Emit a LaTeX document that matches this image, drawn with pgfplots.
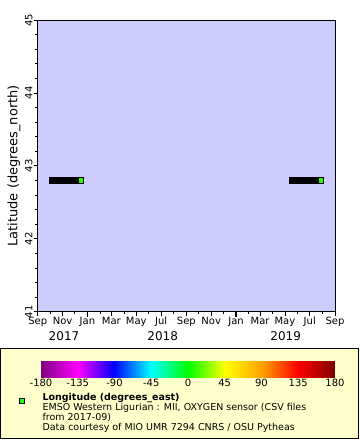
\documentclass[border=0pt]{standalone}
\usepackage{fontspec}
\setmainfont{DejaVu Sans}
\usepackage{pgfplots}
\usepackage{pgfplotstable}
\pgfplotsset{compat=1.18}
\pgfplotsset{/pgf/number format/assume math mode=true}
\definecolor{plotbg}{RGB}{204,204,255}
\definecolor{legbg}{RGB}{255,255,204}
\definecolor{markgreen}{RGB}{34,255,0}
\pgfplotsset{erddapmap/.style={colormap={erddap}{rgb255(0)=(128,0,128) rgb255(1)=(255,0,255) rgb255(2)=(0,0,255) rgb255(3)=(0,255,255) rgb255(4)=(0,255,0) rgb255(5)=(255,255,0) rgb255(6)=(255,165,0) rgb255(7)=(255,0,0) rgb255(8)=(128,0,0)}}}
% day = days since 2017-09-01
\pgfplotstableread{
day lat lon
35 42.8 6.0
37 42.8 6.0
39 42.8 6.0
41 42.8 6.0
43 42.8 6.0
45 42.8 6.0
47 42.8 6.0
49 42.8 6.0
51 42.8 6.0
53 42.8 6.0
55 42.8 6.0
57 42.8 6.0
59 42.8 6.0
61 42.8 6.0
63 42.8 6.0
65 42.8 6.0
67 42.8 6.0
69 42.8 6.0
71 42.8 6.0
73 42.8 6.0
75 42.8 6.0
77 42.8 6.0
79 42.8 6.0
81 42.8 6.0
83 42.8 6.0
85 42.8 6.0
87 42.8 6.0
89 42.8 6.0
91 42.8 6.0
93 42.8 6.0
95 42.8 6.0
97 42.8 6.0
99 42.8 6.0
101 42.8 6.0
103 42.8 6.0
105 42.8 6.0
107 42.8 6.0
624 42.8 6.0
626 42.8 6.0
628 42.8 6.0
630 42.8 6.0
632 42.8 6.0
634 42.8 6.0
636 42.8 6.0
638 42.8 6.0
640 42.8 6.0
642 42.8 6.0
644 42.8 6.0
646 42.8 6.0
648 42.8 6.0
650 42.8 6.0
652 42.8 6.0
654 42.8 6.0
656 42.8 6.0
658 42.8 6.0
660 42.8 6.0
662 42.8 6.0
664 42.8 6.0
666 42.8 6.0
668 42.8 6.0
670 42.8 6.0
672 42.8 6.0
674 42.8 6.0
676 42.8 6.0
678 42.8 6.0
680 42.8 6.0
682 42.8 6.0
684 42.8 6.0
686 42.8 6.0
688 42.8 6.0
690 42.8 6.0
692 42.8 6.0
694 42.8 6.0
696 42.8 6.0
}\obs
\begin{document}
\begin{tikzpicture}
\path[use as bounding box] (0,0) rectangle (360pt,-440pt);
\draw[fill=legbg, line width=0.8pt] (0.9pt,-348.5pt) rectangle (358.1pt,-438.5pt);
\begin{axis}[
  at={(37.7pt,-311.7pt)}, anchor=south west,
  scale only axis, width=297.3pt, height=291.7pt,
  xmin=0, xmax=730, ymin=41, ymax=45,
  axis background/.style={fill=plotbg},
  axis line style={line width=0.8pt},
  clip=false,
  tick align=outside, tick pos=left,
  xtick={0,61,122,181,242,303,365,426,487,546,607,668,730},
  xticklabels={Sep,Nov,Jan,Mar,May,Jul,Sep,Nov,Jan,Mar,May,Jul,Sep},
  minor xtick={30,91,153,212,273,334,395,456,518,577,638,699},
  extra x ticks={122,487}, extra x tick labels={},
  extra x tick style={major tick length=5pt, tick style={black, line width=1.6pt}},
  ytick={41,42,43,44,45}, minor y tick num=4,
  major tick length=4pt, minor tick length=2.5pt,
  tick style={black, line width=0.8pt},
  xticklabel style={font=\fontsize{10}{10}\selectfont, inner sep=1.2pt},
  yticklabel style={font=\fontsize{10}{10}\selectfont, rotate=90, anchor=south, inner sep=1pt},
  ylabel={Latitude (degrees\_north)},
  every axis y label/.style={at={(axis description cs:-0.0797,0.5)}, rotate=90, anchor=center, font=\fontsize{13}{13}\selectfont},
  erddapmap,
  point meta min=-180, point meta max=180,
  legend style={at={(axis description cs:-0.0613,-0.2734)}, anchor=north west, draw=none, fill=none, inner sep=0pt,
    font=\fontsize{9.5}{8.7}\selectfont, cells={anchor=base west},
    /tikz/every odd column/.append style={column sep=16.5pt}},
]
\addplot[scatter, only marks, mark=square*, mark size=2.57pt, scatter src=explicit, forget plot,
  mark options={line width=0.85pt, draw=black},
  scatter/use mapped color={draw=black, fill=mapped color}]
  table[x=day, y=lat, meta=lon] {\obs};
\addlegendimage{only marks, mark=square*, mark size=2.2pt, mark options={draw=black, fill=markgreen, line width=0.7pt}}
\addlegendentry{\begin{tabular}[t]{@{}l@{}}\textbf{Longitude (degrees\_east)}\\EMSO Western Ligurian : MII, OXYGEN sensor (CSV files\\from 2017-09)\\Data courtesy of MIO UMR 7294 CNRS / OSU Pytheas\end{tabular}}
\node[font=\fontsize{12}{12}\selectfont, anchor=base, yshift=-29pt] at (axis cs:64.6,41) {2017};
\node[font=\fontsize{12}{12}\selectfont, anchor=base, yshift=-29pt] at (axis cs:307,41) {2018};
\node[font=\fontsize{12}{12}\selectfont, anchor=base, yshift=-29pt] at (axis cs:609,41) {2019};
\end{axis}
\begin{axis}[
  at={(41pt,-377.7pt)}, anchor=south west,
  scale only axis, width=294pt, height=16.7pt,
  xmin=-180, xmax=180, ymin=0, ymax=1,
  axis line style={draw=none},
  ytick=\empty,
  xtick={-180,-135,-90,-45,0,45,90,135,180},
  major tick length=0pt,
  xticklabel style={font=\fontsize{10}{10}\selectfont, inner sep=1.5pt},
  erddapmap,
  point meta min=-180, point meta max=180,
]
\addplot[surf, shader=interp, point meta=x, mesh/cols=9] coordinates {
(-180,0) (-135,0) (-90,0) (-45,0) (0,0) (45,0) (90,0) (135,0) (180,0)
(-180,1) (-135,1) (-90,1) (-45,1) (0,1) (45,1) (90,1) (135,1) (180,1)
};
\end{axis}
\end{tikzpicture}
\end{document}
